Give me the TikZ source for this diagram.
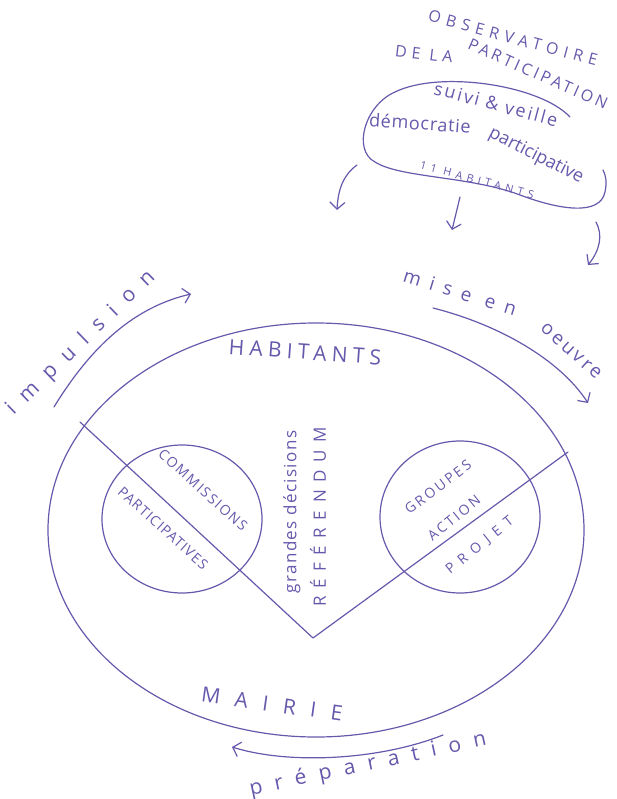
\documentclass[tikz,border=0pt]{standalone}
\usepackage{fontspec}
\setmainfont{Open Sans}
\usetikzlibrary{arrows.meta}
\definecolor{ink}{RGB}{104,88,172}
\newcommand{\hand}[2]{\fontsize{#1}{#1}\selectfont\addfontfeature{LetterSpace=#2}}

\begin{document}
\begin{tikzpicture}[x=1pt,y=-1pt,every node/.style={text=ink,inner sep=0pt},
    pen/.style={draw=ink,line width=1.2pt,line cap=round,line join=round},
    hook/.style={pen,-{Straight Barb[length=7pt,width=15pt]}}]
    \useasboundingbox (0,0) rectangle (616,799);

    % observatoire
    \node[rotate=-15] (obs) at (513,38) {\hand{16}{35}OBSERVATOIRE};
    \node[rotate=-7] (dela) at (424,54) {\hand{16}{30}DE LA};
    \node[rotate=-24] (part) at (538,74) {\hand{16}{20}PARTICIPATION};
    \draw[pen] (570,117) .. controls (540,85) and (440,70) .. (395,92)
        .. controls (365,105) and (352,150) .. (375,162)
        .. controls (400,178) and (470,176) .. (520,195)
        .. controls (560,210) and (600,216) .. (605,192)
        .. controls (607,182) and (606,176) .. (603,170);
    \node[rotate=-15] (suivi) at (496,104) {\hand{18}{12}suivi \& veille};
    \node[rotate=-4] (demo) at (420,123) {\hand{18}{4}démocratie};
    \node[rotate=-27] (partv) at (536,156) {\hand{18}{0}participative};
    \node[rotate=-15] (onze) at (477,180) {\hand{11}{40}11 HABITANTS};

    % cercle habitants / mairie
    \draw[pen] (316,530) ellipse [x radius=268, y radius=207];
    \coordinate (vl) at (80,422);
    \coordinate (vb) at (313,638);
    \coordinate (vr) at (568,452);
    \draw[pen] (vl) -- (vb) -- (vr);
    \draw[pen] (182,519) ellipse [x radius=80, y radius=74];
    \draw[pen] (460,517) ellipse [x radius=80, y radius=76];

    \node[rotate=-4] (hab) at (305,352) {\hand{21}{25}HABITANTS};
    \node[rotate=-8] (mairie) at (272,704) {\hand{21}{70}MAIRIE};
    \node[rotate=90] (grandes) at (292,512) {\hand{17}{8}grandes décisions};
    \node[rotate=90] (ref) at (318,517) {\hand{17}{45}RÉFÉRENDUM};
    \node[rotate=-42] (comm) at (203,490) {\hand{14}{12}COMMISSIONS};
    \node[rotate=-42] (pa) at (163,528) {\hand{14}{8}PARTICIPATIVES};
    \node[rotate=37] (grp) at (438,487) {\hand{14}{18}GROUPES};
    \node[rotate=39] (act) at (454,518) {\hand{14}{18}ACTION};
    \node[rotate=39] (proj) at (480,546) {\hand{14}{50}PROJET};

    \node[rotate=44] (imp) at (81,343) {\hand{21}{60}impulsion};
    \node[rotate=-17] (mise) at (460,292) {\hand{19}{50}mise en};
    \node[rotate=-42] (oeuvre) at (571,351) {\hand{19}{15}oeuvre};
    \node[rotate=12] (prep) at (368,765) {\hand{21}{60}préparation};

    % draw the arrows
    \coordinate (a1) at (357,165);
    \coordinate (b1) at (337,210);
    \coordinate (a2) at (460,197);
    \coordinate (b2) at (452,230);
    \coordinate (a3) at (596,222);
    \coordinate (b3) at (588,265);
    \draw[hook] (a1) .. controls (343,175) and (338,190) .. (b1);
    \draw[hook] (a2) -- (b2);
    \draw[hook] (a3) .. controls (603,235) and (600,250) .. (b3);

    \coordinate (i1) at (54,407);
    \coordinate (i2) at (191,294);
    \coordinate (m1) at (433,308);
    \coordinate (m2) at (588,403);
    \coordinate (p1) at (443,735);
    \coordinate (p2) at (232,747);
    \draw[hook] (i1) .. controls (92,345) and (135,307) .. (i2);
    \draw[hook] (m1) .. controls (500,325) and (560,360) .. (m2);
    \draw[hook] (p1) .. controls (380,760) and (290,765) .. (p2);
\end{tikzpicture}
\end{document}
